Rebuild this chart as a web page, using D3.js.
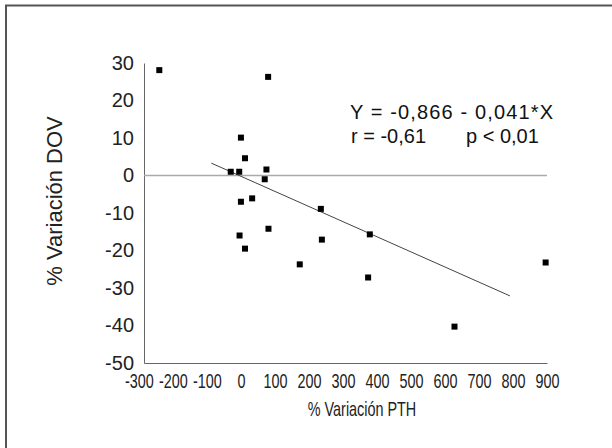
<!DOCTYPE html>
<html>
<head>
<meta charset="utf-8">
<script src="https://cdn.jsdelivr.net/npm/d3@7"></script>
<style>
  body { margin: 0; background: #fff; }
  svg { display: block; }
</style>
</head>
<body>
<svg id="chart" width="612" height="448"></svg>
<script>
// values
var pthChange = [-240, 80, 0, 12, -30, -5, 75, 70, 0, 33, 81, -4, 12, 235, 238, 173, 379, 374, 896, 628];
var dovChange = [28.1, 26.3, 10.1, 4.6, 1.0, 1.0, 1.6, -1.0, -7.0, -6.1, -14.2, -16.0, -19.5, -8.9, -17.1, -23.7, -15.7, -27.2, -23.2, -40.3];

// regression line end points (as drawn)
var fitX = [-87, 791];
var fitY = [3.3, -32.1];

var xTicks = [-300, -200, -100, 0, 100, 200, 300, 400, 500, 600, 700, 800, 900];
var yTicks = [30, 20, 10, 0, -10, -20, -30, -40, -50];

var xTitle = '% Variación PTH';
var yTitle = '% Variación DOV';
var eqLine = 'Y = -0,866 - 0,041*X';
var statR = 'r = -0,61';
var statP = 'p < 0,01';

var svg = d3.select('#chart');

var x = d3.scaleLinear().domain([-285, 900]).range([144, 547]);
var y = d3.scaleLinear().domain([-50, 30]).range([363, 63]);

// the scan uses a condensed face for the x axis, squeeze a normal one
var narrow = 'scale(0.72,1)';
var sans = '"Liberation Sans", Arial, sans-serif';

// frame (only top and left edges survive in the scan)
svg.append('path')
  .attr('d', 'M6,448 L6,5.5 L612,5.5')
  .attr('fill', 'none')
  .attr('stroke', '#555')
  .attr('stroke-width', 2);

// axes, plain hyphen instead of d3's minus sign
var xAxis = d3.axisBottom(x).tickValues(xTicks).tickSize(0).tickPadding(11)
  .tickFormat(function (d) { return String(d); });
var yAxis = d3.axisLeft(y).tickValues(yTicks).tickSize(0).tickPadding(10)
  .tickFormat(function (d) { return String(d); });

var gx = svg.append('g')
  .attr('class', 'x axis')
  .attr('transform', 'translate(0,' + y(-50) + ')')
  .call(xAxis);

gx.selectAll('text')
  .style('font', '20px ' + sans)
  .attr('transform', narrow)
  .attr('fill', '#222');

var gy = svg.append('g')
  .attr('class', 'y axis')
  .attr('transform', 'translate(' + x(-285) + ',0)')
  .call(yAxis);

gy.selectAll('text')
  .style('font', '20px ' + sans)
  .attr('fill', '#222');

svg.selectAll('.axis path')
  .attr('stroke', '#666')
  .attr('stroke-width', 1);

// zero reference line
svg.append('line')
  .attr('x1', x(-285)).attr('x2', x(900))
  .attr('y1', y(0)).attr('y2', y(0))
  .attr('stroke', '#aaa')
  .attr('stroke-width', 1.6);

// regression line
svg.append('line')
  .attr('x1', x(fitX[0])).attr('y1', y(fitY[0]))
  .attr('x2', x(fitX[1])).attr('y2', y(fitY[1]))
  .attr('stroke', '#444')
  .attr('stroke-width', 1);

// points
var pts = pthChange.map(function (d, i) { return [d, dovChange[i]]; });
var size = 6;

svg.append('g')
  .selectAll('rect')
  .data(pts)
  .join('rect')
  .attr('x', function (d) { return x(d[0]) - size / 2; })
  .attr('y', function (d) { return y(d[1]) - size / 2; })
  .attr('width', size)
  .attr('height', size)
  .attr('fill', '#000');

// titles
svg.append('text')
  .attr('transform', 'translate(362,416) ' + narrow)
  .attr('text-anchor', 'middle')
  .style('font', '20px ' + sans)
  .attr('fill', '#222')
  .text(xTitle);

svg.append('text')
  .attr('transform', 'translate(62,201) rotate(-90)')
  .attr('text-anchor', 'middle')
  .style('font', '22px ' + sans)
  .attr('fill', '#222')
  .text(yTitle);

// equation
var eq = svg.append('g')
  .style('font', '20px ' + sans)
  .attr('fill', '#111');

eq.append('text')
  .attr('x', 350).attr('y', 119)
  .attr('textLength', 203)
  .attr('lengthAdjust', 'spacing')
  .text(eqLine);

eq.append('text').attr('x', 351).attr('y', 143).text(statR);
eq.append('text').attr('x', 466).attr('y', 143).text(statP);
</script>
</body>
</html>
